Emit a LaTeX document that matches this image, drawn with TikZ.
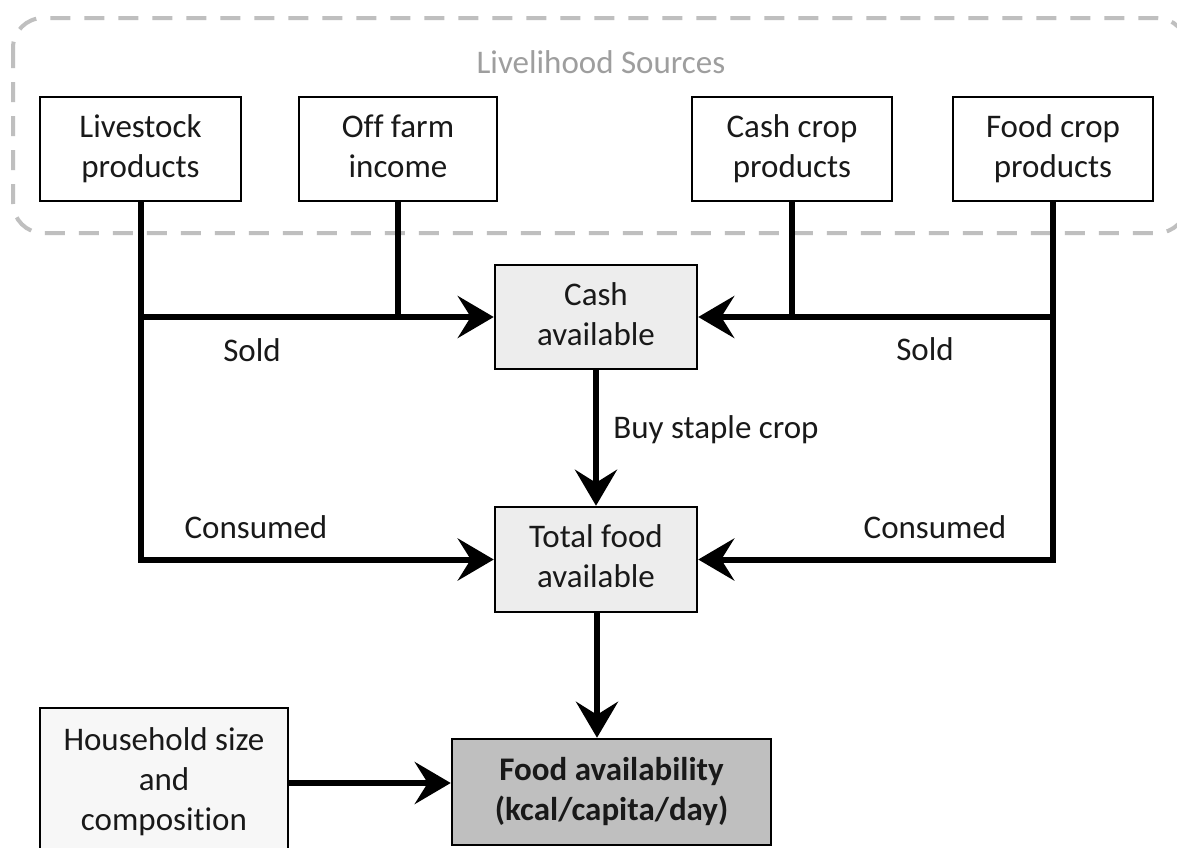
\documentclass[tikz,border=0pt]{standalone}
\usepackage{fontspec}
\setmainfont{Carlito}[Ligatures=CommonOff]
\usetikzlibrary{arrows.meta}
\newcommand{\ls}[1]{\strut#1}
\tikzset{
  srcbox/.style={draw=black, line width=2.5pt, fill=white, align=center, inner sep=0pt,
    font=\fontsize{33}{40}\selectfont, text=black!90},
  midbox/.style={srcbox, fill=black!7},
  finbox/.style={srcbox, fill=black!25, font=\fontsize{33}{40}\selectfont\bfseries},
  hhbox/.style={srcbox, fill=black!3},
  conn/.style={line width=6pt, draw=black, line join=miter},
  arr/.style={conn, -{Stealth[length=36pt,width=42pt,inset=13pt]}},
  lbl/.style={font=\fontsize{33}{40}\selectfont, text=black!90, inner sep=0pt},
  group/.style={draw=black!25, line width=4pt, dash pattern=on 20pt off 14pt, rounded corners=30pt}
}
\begin{document}
\begin{tikzpicture}[x=1pt,y=-1pt]
\path[use as bounding box, clip] (0,0) rectangle (1177,847);
\fill[white] (0,0) rectangle (1177,847);
% group frame
\draw[group] (13,18) rectangle (1187,233);
\node[lbl, text=black!38] (title) at (601,62) {Livelihood Sources};
% source boxes
\node[srcbox, minimum width=201pt, minimum height=104pt] (live) at (140.5,149) {\ls{Livestock}\\\ls{products}};
\node[srcbox, minimum width=198pt, minimum height=104pt] (off) at (398,149) {\ls{Off farm}\\\ls{income}};
\node[srcbox, minimum width=200pt, minimum height=104pt] (cashcrop) at (792,149) {\ls{Cash crop}\\\ls{products}};
\node[srcbox, minimum width=200pt, minimum height=104pt] (foodcrop) at (1053,149) {\ls{Food crop}\\\ls{products}};
% middle boxes
\node[midbox, minimum width=202pt, minimum height=104pt] (cash) at (596,317) {\ls{Cash}\\\ls{available}};
\node[midbox, minimum width=202pt, minimum height=105pt] (total) at (596,559.5) {\ls{Total food}\\\ls{available}};
% bottom boxes
\node[hhbox, minimum width=248pt, minimum height=148pt] (hh) at (164,782) {\ls{Household size}\\\ls{and}\\\ls{composition}};
\node[finbox, minimum width=319pt, minimum height=106pt] (favail) at (611.5,792) {\ls{Food availability}\\\ls{(kcal/capita/day)}};
% connectors
\draw[arr] (live.south) |- (total.west);
\draw[arr] (live.south |- cash.west) -- (cash.west);
\draw[conn] (off.south) -- (off.south |- cash.west);
\draw[arr] (foodcrop.south) |- (total.east);
\draw[arr] (foodcrop.south |- cash.east) -- (cash.east);
\draw[conn] (cashcrop.south) -- ([yshift=-3pt]cashcrop.south |- cash.east);
\draw[arr] (cash.south) -- (total.north);
\draw[arr] ([xshift=1pt]total.south) -- ([xshift=1pt]total.south |- favail.north);
\draw[arr] (hh.east |- 0,783) -- (favail.west |- 0,783);
% labels
\node[lbl] (soldl) at (252,350) {Sold};
\node[lbl] (soldr) at (925,349) {Sold};
\node[lbl] (consl) at (256,527) {Consumed};
\node[lbl] (consr) at (935,527) {Consumed};
\node[lbl] (buy) at (716,430) {Buy staple crop};
\end{tikzpicture}
\end{document}
